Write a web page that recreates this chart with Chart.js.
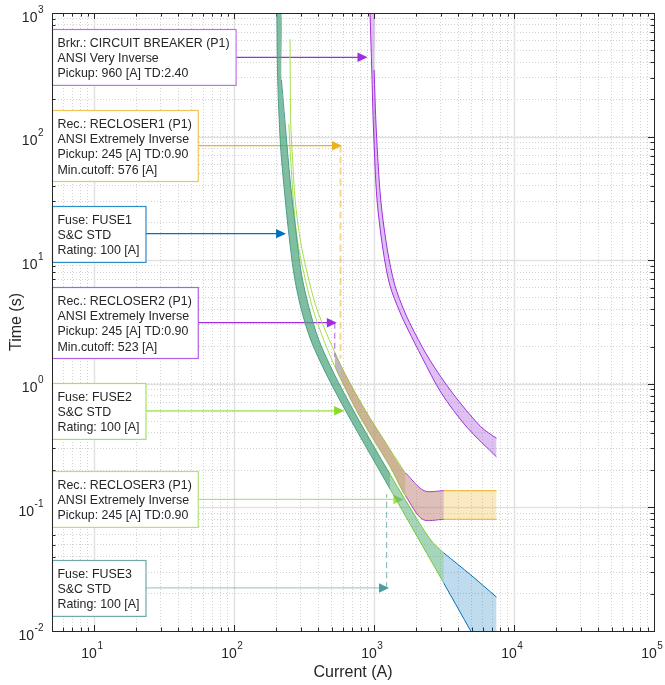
<!DOCTYPE html>
<html>
<head>
<meta charset="utf-8">
<script src="https://cdn.jsdelivr.net/npm/chart.js@4.4.1/dist/chart.umd.min.js"></script>
<style>
  html, body { margin: 0; padding: 0; background: #fff; }
</style>
</head>
<body>
<canvas id="tcc" width="665" height="685"></canvas>
<script>
// axis ranges and tick labels
const xMin = 5, xMax = 1e5;
const yMin = 0.01, yMax = 1000;
const xMajorTicks = [10, 100, 1000, 10000, 100000];
const xTickExps = ['1', '2', '3', '4', '5'];
const yMajorTicks = [0.01, 0.1, 1, 10, 100, 1000];
const yTickExps = ['-2', '-1', '0', '1', '2', '3'];

// S&C STD 100 A fuse: minimum melt (left edge) and total clearing (right edge), current [A] / time [s]
const fuseMeltI = [202, 205, 214, 224, 236, 246, 267, 299, 353, 452, 628, 946, 1429, 2158, 3148, 4908, 7500];
const fuseMeltT = [1000, 287, 88.8, 47.1, 25.5, 16.3, 7.87, 4.18, 2.26, 1.22, 0.602, 0.265, 0.117, 0.0515, 0.0244, 0.01, 0.0043];
const fuseClearI = [218, 238, 250, 265, 278, 302, 342, 403, 515, 716, 1081, 1656, 2541, 3148, 4908, 7500];
const fuseClearT = [287, 88.8, 47.1, 25.5, 16.3, 7.87, 4.18, 2.26, 1.22, 0.602, 0.265, 0.117, 0.0545, 0.0428, 0.0284, 0.0188];

// ANSI extremely inverse, pickup 245 A, TD 0.90 (same settings on the three reclosers)
const recLoI = [246, 254, 265, 283, 315, 362, 437, 551, 752, 995, 1294, 1630, 2218, 3150, 7500];
const recLoT = [126, 64.7, 30.7, 14.6, 7.87, 4.18, 2.26, 1.22, 0.602, 0.35, 0.215, 0.13, 0.0801, 0.0801, 0.0801];
const recHiI = [251, 254, 262, 273, 297, 333, 386, 479, 618, 873, 1172, 1656, 2275, 3150, 7500];
const recHiT = [616, 126, 64.7, 30.7, 14.6, 7.87, 4.18, 2.26, 1.22, 0.602, 0.355, 0.193, 0.1365, 0.1365, 0.1365];

// ANSI very inverse, pickup 960 A, TD 2.40 (breaker)
const cbLoI = [936, 963, 991, 1050, 1159, 1295, 1528, 1754, 2193, 3020, 4592, 7500];
const cbLoT = [1000, 346, 113, 30.7, 12.1, 6.30, 3.81, 2.72, 1.65, 0.843, 0.447, 0.256];
const cbHiI = [1000, 1037, 1116, 1245, 1406, 1656, 1954, 2500, 3631, 5781, 7500];
const cbHiT = [346, 113, 30.7, 12.1, 6.30, 3.81, 2.58, 1.56, 0.843, 0.450, 0.362];

// current range of each device (FUSE1..3, RECLOSER1..3)
const fuseMaxI = [7500, 3150, 1300];
const recMinI = [576, 523, null];
const recMaxI = [7500, 3150, 1680];
const recFillMinI = [576, 523, 523];
const cbMaxI = 7500;

// min cutoff / marker dashes
const cutI = [576, 523, 1230];
const cutFromT = [84.4, 3.12, 0.0223];
const cutToT = [1.6, 1.65, 0.128];

// label boxes, top to bottom, and where their arrows point
const noteLines = [
  ['Brkr.: CIRCUIT BREAKER (P1)', 'ANSI Very Inverse', 'Pickup: 960 [A] TD:2.40'],
  ['Rec.: RECLOSER1 (P1)', 'ANSI Extremely Inverse', 'Pickup: 245 [A] TD:0.90', 'Min.cutoff: 576 [A]'],
  ['Fuse: FUSE1', 'S&C STD', 'Rating: 100 [A]'],
  ['Rec.: RECLOSER2 (P1)', 'ANSI Extremely Inverse', 'Pickup: 245 [A] TD:0.90', 'Min.cutoff: 523 [A]'],
  ['Fuse: FUSE2', 'S&C STD', 'Rating: 100 [A]'],
  ['Rec.: RECLOSER3 (P1)', 'ANSI Extremely Inverse', 'Pickup: 245 [A] TD:0.90'],
  ['Fuse: FUSE3', 'S&C STD', 'Rating: 100 [A]']
];
const noteI = [898, 590, 235, 542, 611, 1622, 1279];
const noteT = [438, 84.4, 16.4, 3.12, 0.605, 0.116, 0.0223];

// colours
const cbColor = '#A02CE0', cbFill = 'rgba(155,60,215,0.32)';
const fuseColors = ['#0072BD', '#84D62C', '#4F9C9C'];
const fuseFills = ['rgba(0,114,189,0.25)', 'rgba(153,223,40,0.32)', 'rgba(70,150,130,0.42)'];
const recColors = ['#EDB120', '#A02CE0', '#A5DE4E'];
const recFills = ['rgba(237,177,32,0.28)', 'rgba(130,60,220,0.3)', 'rgba(150,200,50,0.35)'];
const cutColors = ['rgba(237,177,32,0.5)', 'rgba(160,44,224,0.55)', 'rgba(79,156,156,0.75)'];
const noteColors = ['#A02CE0', '#EDB120', '#0072BD', '#A02CE0', '#8ADB2C', '#A5DE4E', '#4F9C9C'];
const noteBorders = ['#BD72E6', '#F2C45A', '#2E8BCB', '#B35FE4', '#A2E45A', '#B3E375', '#6FA9A9'];
const noteShafts = ['#A02CE0', '#EDB120', '#0072BD', '#A02CE0', '#9EE34F', 'rgba(150,215,80,0.7)', 'rgba(79,156,156,0.5)'];

const FONT = '"Liberation Sans", Arial, Helvetica, sans-serif';
const CLEAR = 'rgba(0,0,0,0)';
const TENSION = 0.3;

// grid positions (1..9 per decade)
function decadeTicks(lo, hi) {
  const v = [];
  for (let e = lo; e < hi; e++)
    for (let m = 1; m <= 9; m++) v.push(+(m * Math.pow(10, e)).toPrecision(3));
  v.push(Math.pow(10, hi));
  return v;
}
const xGrid = decadeTicks(0, 5).filter(v => v >= xMin);
const yGrid = decadeTicks(-2, 3);

// log-log interpolation, only used to cut a curve at a current limit
function logInterp(I, T, v) {
  for (let i = 0; i < I.length - 1; i++) {
    if (v >= I[i] && v <= I[i + 1]) {
      if (I[i + 1] === I[i]) return T[i + 1];
      const f = Math.log(v / I[i]) / Math.log(I[i + 1] / I[i]);
      return T[i] * Math.pow(T[i + 1] / T[i], f);
    }
  }
  return null;
}

function curvePts(I, T, lo, hi) {
  const pts = [];
  if (lo != null && lo > I[0]) pts.push({x: lo, y: logInterp(I, T, lo)});
  for (let i = 0; i < I.length; i++) {
    if ((lo == null || I[i] > lo) && I[i] < hi) pts.push({x: I[i], y: T[i]});
  }
  if (hi <= I[I.length - 1]) pts.push({x: hi, y: logInterp(I, T, hi)});
  return pts;
}

function lineSet(pts, color, w) {
  return {data: pts, fill: false, borderColor: color, borderWidth: w, pointRadius: 0, tension: TENSION};
}

// filled area between an upper and a lower curve (no stroke)
function fillSets(hiI, hiT, loI, loT, lo, hi, bg) {
  const upper = curvePts(hiI, hiT, lo, hi);
  const lower = curvePts(loI, loT, lo, hi);
  if (lo == null && loI[0] < hiI[0]) upper.unshift({x: loI[0], y: loT[0]}, {x: hiI[0], y: loT[0]});
  const up = lineSet(upper, CLEAR, 0);
  up.fill = '+1';
  up.backgroundColor = bg;
  return [up, lineSet(lower, CLEAR, 0)];
}
function edgeSets(hiI, hiT, loI, loT, lo, hi, color) {
  return [lineSet(curvePts(hiI, hiT, lo, hi), color, 1), lineSet(curvePts(loI, loT, lo, hi), color, 1)];
}

const datasets = [];
datasets.push(...fillSets(cbHiI, cbHiT, cbLoI, cbLoT, null, cbMaxI, cbFill));
datasets.push(...edgeSets(cbHiI, cbHiT, cbLoI, cbLoT, null, cbMaxI, cbColor));

// fuses: later fuses are drawn on top, so each edge is stroked where it is the top one
for (let k = 0; k < 3; k++)
  datasets.push(...fillSets(fuseClearI, fuseClearT, fuseMeltI, fuseMeltT, null, fuseMaxI[k], fuseFills[k]));
for (let k = 0; k < 3; k++) {
  const from = k < 2 ? fuseMaxI[k + 1] : null;
  datasets.push(...edgeSets(fuseClearI, fuseClearT, fuseMeltI, fuseMeltT, from, fuseMaxI[k], fuseColors[k]));
}

// reclosers, same idea
for (let k = 0; k < 3; k++)
  datasets.push(...fillSets(recHiI, recHiT, recLoI, recLoT, recFillMinI[k], recMaxI[k], recFills[k]));
for (let k = 0; k < 3; k++) {
  const from = k < 2 ? Math.max(recMinI[k], recMaxI[k + 1]) : recMinI[k];
  datasets.push(...edgeSets(recHiI, recHiT, recLoI, recLoT, from, recMaxI[k], recColors[k]));
}

for (let k = 0; k < 3; k++) {
  const d = lineSet([{x: cutI[k], y: cutFromT[k]}, {x: cutI[k], y: cutToT[k]}], cutColors[k], k === 0 ? 2 : (k === 1 ? 1.5 : 1));
  d.borderDash = k === 0 ? [7, 4] : [6, 4];
  datasets.push(d);
}

// extra drawing: solid major grid, inward ticks, label boxes, axis frame, tick labels
const decor = {
  id: 'decor',
  beforeDatasetsDraw(chart) {
    const {ctx, chartArea: a, scales: {x, y}} = chart;
    ctx.save();
    ctx.strokeStyle = '#e1e1e1';
    ctx.lineWidth = 1.5;
    xMajorTicks.forEach(v => {
      if (v <= xMin || v >= xMax) return;
      const px = Math.round(x.getPixelForValue(v)) + 0.5;
      ctx.beginPath(); ctx.moveTo(px, a.top); ctx.lineTo(px, a.bottom); ctx.stroke();
    });
    yMajorTicks.forEach(v => {
      if (v <= yMin || v >= yMax) return;
      const py = Math.round(y.getPixelForValue(v)) + 0.5;
      ctx.beginPath(); ctx.moveTo(a.left, py); ctx.lineTo(a.right, py); ctx.stroke();
    });

    // inward ticks on all four sides
    ctx.strokeStyle = '#262626';
    ctx.lineWidth = 1;
    xGrid.forEach(v => {
      if (v <= xMin || v >= xMax) return;
      const len = xMajorTicks.includes(v) ? 6 : 3.5;
      const px = Math.round(x.getPixelForValue(v)) + 0.5;
      ctx.beginPath();
      ctx.moveTo(px, a.bottom); ctx.lineTo(px, a.bottom - len);
      ctx.moveTo(px, a.top); ctx.lineTo(px, a.top + len);
      ctx.stroke();
    });
    yGrid.forEach(v => {
      if (v <= yMin || v >= yMax) return;
      const len = yMajorTicks.includes(v) ? 6 : 3.5;
      const py = Math.round(y.getPixelForValue(v)) + 0.5;
      ctx.beginPath();
      ctx.moveTo(a.left, py); ctx.lineTo(a.left + len, py);
      ctx.moveTo(a.right, py); ctx.lineTo(a.right - len, py);
      ctx.stroke();
    });

    // label boxes with arrows
    ctx.font = '12.4px ' + FONT;
    noteLines.forEach((lines, k) => {
      const w = Math.max(...lines.map(s => ctx.measureText(s).width)) + 11.5;
      const h = 25.7 + (lines.length - 1) * 15.1;
      const ay = y.getPixelForValue(noteT[k]);
      const tip = x.getPixelForValue(noteI[k]);
      const left = a.left + 0.5, top = Math.round(ay - h / 2) + 0.5;
      const right = left + w;

      ctx.strokeStyle = noteShafts[k];
      ctx.lineWidth = 1.3;
      ctx.beginPath(); ctx.moveTo(right, ay); ctx.lineTo(tip - 9, ay); ctx.stroke();
      ctx.fillStyle = noteColors[k];
      ctx.beginPath();
      ctx.moveTo(tip, ay); ctx.lineTo(tip - 10, ay - 4.7); ctx.lineTo(tip - 10, ay + 4.7);
      ctx.closePath(); ctx.fill();

      ctx.fillStyle = '#fff';
      ctx.fillRect(left, top, w, h);
      ctx.strokeStyle = noteBorders[k];
      ctx.lineWidth = 1.2;
      ctx.strokeRect(left, top, w, h);
      ctx.fillStyle = '#262626';
      ctx.textAlign = 'left';
      ctx.textBaseline = 'alphabetic';
      lines.forEach((s, i) => ctx.fillText(s, left + 5, top + 17.7 + i * 15.1));
    });
    ctx.restore();
  },
  afterDatasetsDraw(chart) {
    const {ctx, chartArea: a, scales: {x, y}} = chart;
    ctx.save();
    ctx.strokeStyle = '#262626';
    ctx.lineWidth = 1;
    ctx.strokeRect(Math.round(a.left) + 0.5, Math.round(a.top) + 0.5,
                   Math.round(a.right - a.left), Math.round(a.bottom - a.top));

    ctx.fillStyle = '#262626';
    ctx.textAlign = 'left';
    ctx.textBaseline = 'alphabetic';
    const power = (exp, px, baseY, align) => {
      ctx.font = '14px ' + FONT;
      const wb = ctx.measureText('10').width;
      ctx.font = '10px ' + FONT;
      const we = ctx.measureText(exp).width;
      const total = wb + 0.5 + we;
      const x0 = align === 'center' ? px - total / 2 : px - total;
      ctx.font = '14px ' + FONT;
      ctx.fillText('10', x0, baseY);
      ctx.font = '10px ' + FONT;
      ctx.fillText(exp, x0 + wb + 0.5, baseY - 9);
    };
    xMajorTicks.forEach((v, i) => power(xTickExps[i], x.getPixelForValue(v) - 2, a.bottom + 27, 'center'));
    yMajorTicks.forEach((v, i) => power(yTickExps[i], a.left - 8.5, y.getPixelForValue(v) + 8.5, 'right'));

    ctx.font = '16px ' + FONT;
    ctx.textAlign = 'center';
    ctx.fillText('Current (A)', (a.left + a.right) / 2, a.bottom + 45.5);
    ctx.translate(20.5, (a.top + a.bottom) / 2);
    ctx.rotate(-Math.PI / 2);
    ctx.fillText('Time (s)', 0, 0);
    ctx.restore();
  }
};

const chart = new Chart(document.getElementById('tcc'), {
  type: 'line',
  data: {datasets: datasets},
  options: {
    responsive: false,
    animation: false,
    devicePixelRatio: 1,
    layout: {padding: {left: 52, top: 13, right: 11, bottom: 54}},
    plugins: {legend: {display: false}, tooltip: {enabled: false}},
    scales: {
      x: {
        type: 'logarithmic', min: xMin, max: xMax,
        afterBuildTicks: s => { s.ticks = xGrid.map(v => ({value: v})); },
        ticks: {display: false},
        grid: {color: '#d2d2d2', lineWidth: 1, drawTicks: false},
        border: {display: false, dash: [1, 2]}
      },
      y: {
        type: 'logarithmic', min: yMin, max: yMax,
        afterBuildTicks: s => { s.ticks = yGrid.map(v => ({value: v})); },
        ticks: {display: false},
        grid: {color: '#d2d2d2', lineWidth: 1, drawTicks: false},
        border: {display: false, dash: [1, 2]}
      }
    }
  },
  plugins: [decor]
});
</script>
</body>
</html>
